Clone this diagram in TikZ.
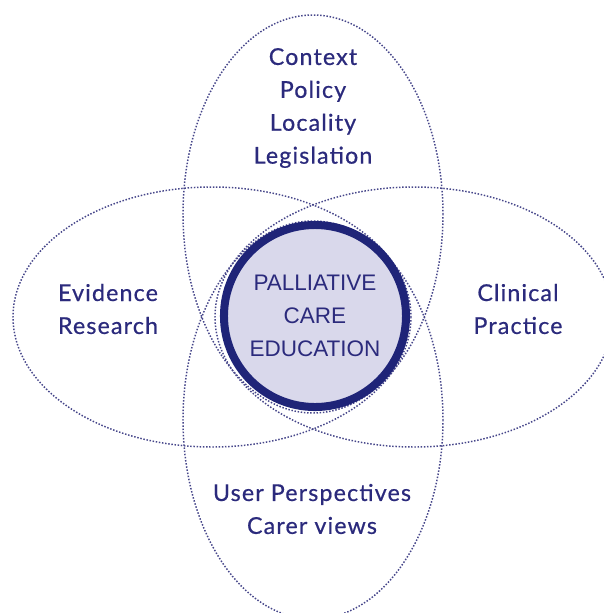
\documentclass[tikz,border=0pt]{standalone}
\usepackage{tikz}
\usepackage{fontspec}
\usepackage{xcolor}
\setmainfont{Lato}
\newfontfamily\lblfont[LetterSpace=5,FakeBold=0.6]{Lato}
\newfontfamily\hubfont{Liberation Sans}
\usetikzlibrary{shapes,
	positioning}
\definecolor{navy}{HTML}{2B2A7C}
\definecolor{ringblue}{HTML}{1F2478}
\definecolor{lilac}{HTML}{D9D8EB}
\definecolor{dotblue}{HTML}{46468A}
\tikzstyle{zone}=[draw=dotblue, line width=1.05pt, dash pattern=on 1.05pt off 1.2pt]
\tikzstyle{lbl}=[text=navy, align=center, inner sep=0,
		font=\lblfont\fontsize{16.5}{23.4}\selectfont]
\tikzstyle{hub}=[circle, draw=ringblue, fill=lilac, line width=5.7pt,
		minimum size=4.55cm, inner sep=0, text=navy, align=center,
		font=\hubfont\fontsize{16}{23.6}\selectfont]

\begin{document}
\begin{tikzpicture}[x=0.025cm, y=-0.025cm]
                \useasboundingbox (0,0) rectangle (604,613);
                % the four dotted ellipses
                \draw[zone] (313,214) ellipse [x radius=130, y radius=199];
                \draw[zone] (313,420) ellipse [x radius=130, y radius=199];
                \draw[zone] (212,317) ellipse [x radius=199, y radius=130];
                \draw[zone] (414,317) ellipse [x radius=199, y radius=130];
                % centre
                \node[hub] (pce) at (315,316) {PALLIATIVE\\CARE\\EDUCATION};
                % labels
                \node[lbl] (context) at (313,108) {Context\\Policy\\Locality\\Legislation};
                \node[lbl] (evidence) at (108,309) {Evidence\\Research};
                \node[lbl] (clinical) at (518,309) {Clinical\\Practice};
                \node[lbl] (user) at (312,509) {User Perspectives\\Carer views};
            \end{tikzpicture}
\end{document}
